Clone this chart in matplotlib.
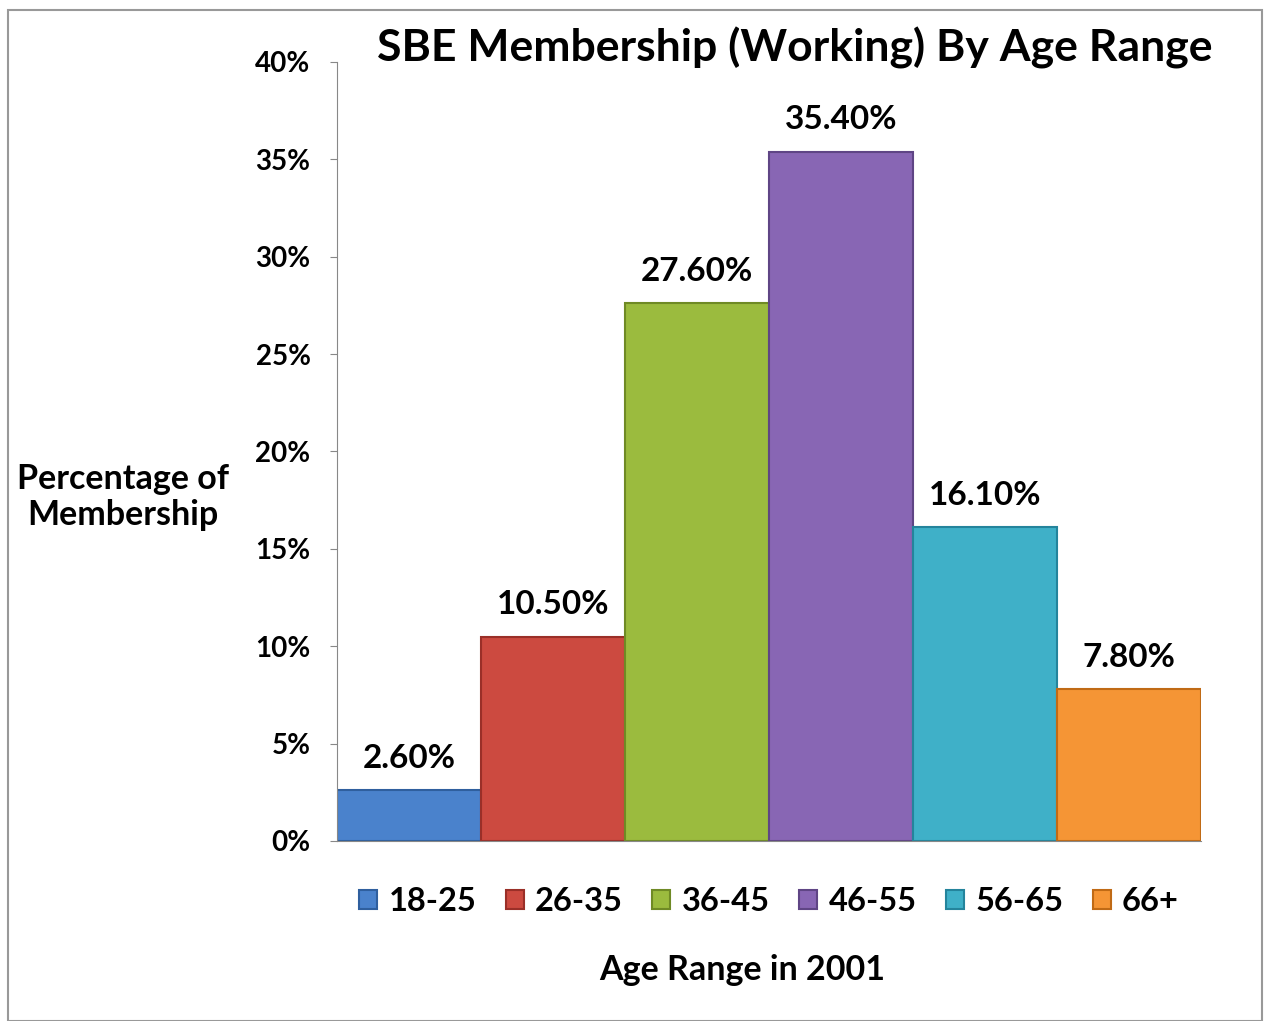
import matplotlib.pyplot as plt
from matplotlib.patches import Rectangle
from matplotlib.ticker import FuncFormatter

plt.rcParams['font.family'] = ['Lato', 'DejaVu Sans']
plt.rcParams['font.weight'] = 'bold'

# data
age_ranges = ['18-25', '26-35', '36-45', '46-55', '56-65', '66+']
membership = [2.6, 10.5, 27.6, 35.4, 16.1, 7.8]
bar_colors = ['#4a82cc', '#cc4a40', '#9bbb3e', '#8866b4', '#3fb0c8', '#f59535']
edge_colors = ['#2f5f9e', '#9a2f28', '#6f8a25', '#5f4585', '#24849c', '#c06a15']

fig = plt.figure(figsize=(12.65, 10.21), dpi=100)
ax = fig.add_axes([0.2664, 0.1763, 0.683, 0.7630])

for i, (lab, val) in enumerate(zip(age_ranges, membership)):
    ax.bar(i, val, width=1.0, color=bar_colors[i], edgecolor=edge_colors[i],
           linewidth=1.5, label=lab)
    ax.text(i, val + 0.9, f'{val:.2f}%', ha='center', va='bottom',
            fontsize=24, fontweight='bold')

ax.set_xlim(-0.5, 5.5)
ax.set_ylim(0, 40)
ax.set_yticks(range(0, 41, 5))
ax.yaxis.set_major_formatter(FuncFormatter(lambda v, p: f'{int(v)}%'))
ax.tick_params(axis='y', labelsize=20, length=5, color='#888888', pad=14)
ax.set_xticks([])
for s in ['top', 'right']:
    ax.spines[s].set_visible(False)
ax.spines['left'].set_color('#888888')
ax.spines['bottom'].set_color('#888888')

fig.text(0.628, 0.953, 'SBE Membership (Working) By Age Range', ha='center',
         va='center', fontsize=32, fontweight='bold')
fig.text(0.097, 0.513, 'Percentage of\nMembership', ha='center', va='center',
         fontsize=24.5, fontweight='bold', linespacing=1.15)
fig.text(0.587, 0.050, 'Age Range in 2001', ha='center', va='center',
         fontsize=24.5, fontweight='bold')

leg = fig.legend(loc='center', bbox_to_anchor=(0.608, 0.117), ncol=6,
                 frameon=False, fontsize=23.5, handlelength=0.55, handleheight=0.55,
                 handletextpad=0.35, columnspacing=0.9)

fig.patches.append(Rectangle((0.006, 0.0), 0.992, 0.990, transform=fig.transFigure,
                             fill=False, edgecolor='#999999', linewidth=1.5))

fig.savefig('out.png', dpi=100)
